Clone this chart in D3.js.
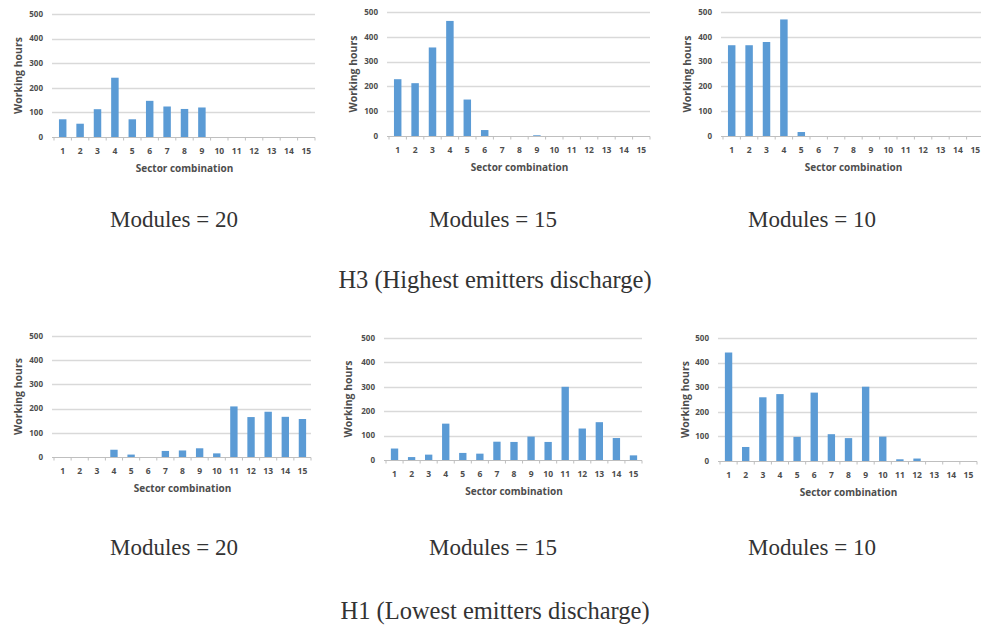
<!DOCTYPE html>
<html>
<head>
<meta charset="utf-8">
<script src="https://cdn.jsdelivr.net/npm/d3@7"></script>
<style>
  html, body { margin: 0; padding: 0; background: #ffffff; }
  svg { display: block; }
</style>
</head>
<body>
<svg id="chart" width="981" height="626"></svg>
<script>
// ---------- data ----------
const categories = ["1","2","3","4","5","6","7","8","9","10","11","12","13","14","15"];
const yTicks = [0, 100, 200, 300, 400, 500];

const h3Modules20 = [72, 54, 113, 241, 72, 147, 124, 114, 120, 0, 0, 0, 0, 0, 0];
const h3Modules15 = [229, 213, 357, 464, 147, 24, 0, 0, 3, 0, 0, 0, 0, 0, 0];
const h3Modules10 = [366, 366, 379, 470, 16, 0, 0, 0, 0, 0, 0, 0, 0, 0, 0];
const h1Modules20 = [0, 0, 0, 30, 10, 0, 25, 27, 36, 15, 209, 165, 187, 166, 157];
const h1Modules15 = [47, 12, 22, 149, 29, 26, 75, 74, 96, 74, 300, 129, 155, 90, 19];
const h1Modules10 = [441, 57, 259, 272, 98, 278, 109, 93, 302, 99, 7, 10, 0, 0, 0];

const captions = ["Modules = 20", "Modules = 15", "Modules = 10"];
const groupTitles = ["H3 (Highest emitters discharge)", "H1 (Lowest emitters discharge)"];
const yTitle = "Working hours";
const xTitle = "Sector combination";

// ---------- layout ----------
const panels = [
  { values: h3Modules20, x0: 54,  x1: 315, yTop: 14,  yBase: 137, yTitleX: 18 },
  { values: h3Modules15, x0: 389, x1: 650, yTop: 12,  yBase: 136, yTitleX: 353 },
  { values: h3Modules10, x0: 723, x1: 984, yTop: 12,  yBase: 136, yTitleX: 687 },
  { values: h1Modules20, x0: 54,  x1: 311, yTop: 336, yBase: 457, yTitleX: 18 },
  { values: h1Modules15, x0: 386, x1: 642, yTop: 338, yBase: 460, yTitleX: 348 },
  { values: h1Modules10, x0: 720, x1: 977, yTop: 338, yBase: 461, yTitleX: 685 }
];
const captionPos = [
  { x: 174, y: 227 }, { x: 493, y: 227 }, { x: 812, y: 227 },
  { x: 174, y: 555 }, { x: 493, y: 555 }, { x: 812, y: 555 }
];
const groupTitlePos = [{ x: 495, y: 288 }, { x: 495, y: 619 }];

const barColor = "#5b9bd5";
const gridColor = "#d9d9d9";
const axisColor = "#bfbfbf";
const textColor = "#4d4d4d";
const chartFont = "'Open Sans', 'Liberation Sans', sans-serif";
const serifFont = "'Liberation Serif', 'Times New Roman', serif";

const svg = d3.select("#chart");

panels.forEach((p, i) => {
  const g = svg.append("g");
  const x = d3.scaleBand().domain(categories).range([p.x0, p.x1]).paddingInner(0.57).paddingOuter(0.285);
  const xb = d3.scaleBand().domain(categories).range([p.x0, p.x1]);
  const y = d3.scaleLinear().domain([0, 500]).range([p.yBase, p.yTop]);

  // gridlines
  g.selectAll("line.grid").data(yTicks.filter(t => t > 0)).enter().append("line")
    .attr("x1", p.x0 - 2).attr("x2", p.x1)
    .attr("y1", d => Math.round(y(d)) + 0.5).attr("y2", d => Math.round(y(d)) + 0.5)
    .attr("stroke", gridColor).attr("stroke-width", 1.3);

  // y axis labels
  g.selectAll("text.ytick").data(yTicks).enter().append("text")
    .attr("x", p.x0 - 11).attr("y", d => y(d)).attr("dy", "0.35em")
    .attr("text-anchor", "end")
    .attr("font-family", chartFont).attr("font-size", 8).attr("font-weight", 700)
    .attr("fill", textColor).text(d => d);

  // bars
  g.selectAll("rect.bar").data(p.values).enter().append("rect")
    .attr("x", (d, j) => x(categories[j]))
    .attr("width", x.bandwidth())
    .attr("y", d => y(d))
    .attr("height", d => y(0) - y(d))
    .attr("fill", barColor);

  // x axis baseline and ticks
  const yb = Math.round(y(0)) + 0.5;
  g.append("line").attr("x1", p.x0 - 2).attr("x2", p.x1).attr("y1", yb).attr("y2", yb)
    .attr("stroke", axisColor).attr("stroke-width", 1);
  const tickPos = categories.map(c => xb(c)).concat([p.x1]);
  g.selectAll("line.xt").data(tickPos).enter().append("line")
    .attr("x1", d => d).attr("x2", d => d).attr("y1", yb).attr("y2", yb + 3)
    .attr("stroke", axisColor).attr("stroke-width", 1);

  // category labels
  g.selectAll("text.xtick").data(categories).enter().append("text")
    .attr("x", d => xb(d) + xb.bandwidth() / 2).attr("y", p.yBase + 17)
    .attr("text-anchor", "middle")
    .attr("font-family", chartFont).attr("font-size", 8.5).attr("font-weight", 700)
    .attr("fill", textColor).text(d => d);

  // x title
  g.append("text").attr("x", (p.x0 + p.x1) / 2).attr("y", p.yBase + 35)
    .attr("text-anchor", "middle")
    .attr("font-family", chartFont).attr("font-size", 10).attr("font-weight", 700)
    .attr("fill", textColor).text(xTitle);

  // y title
  g.append("text")
    .attr("transform", `translate(${p.yTitleX},${(p.yTop + p.yBase) / 2}) rotate(-90)`)
    .attr("text-anchor", "middle").attr("dy", "0.35em")
    .attr("font-family", chartFont).attr("font-size", 10.5).attr("font-weight", 700)
    .attr("fill", textColor).text(yTitle);

  // caption
  svg.append("text").attr("x", captionPos[i].x).attr("y", captionPos[i].y)
    .attr("text-anchor", "middle")
    .attr("font-family", serifFont).attr("font-size", 23)
    .attr("fill", "#333333").text(captions[i % 3]);
});

groupTitles.forEach((t, i) => {
  svg.append("text").attr("x", groupTitlePos[i].x).attr("y", groupTitlePos[i].y)
    .attr("text-anchor", "middle")
    .attr("font-family", serifFont).attr("font-size", 24.5)
    .attr("fill", "#333333").text(t);
});
</script>
</body>
</html>
